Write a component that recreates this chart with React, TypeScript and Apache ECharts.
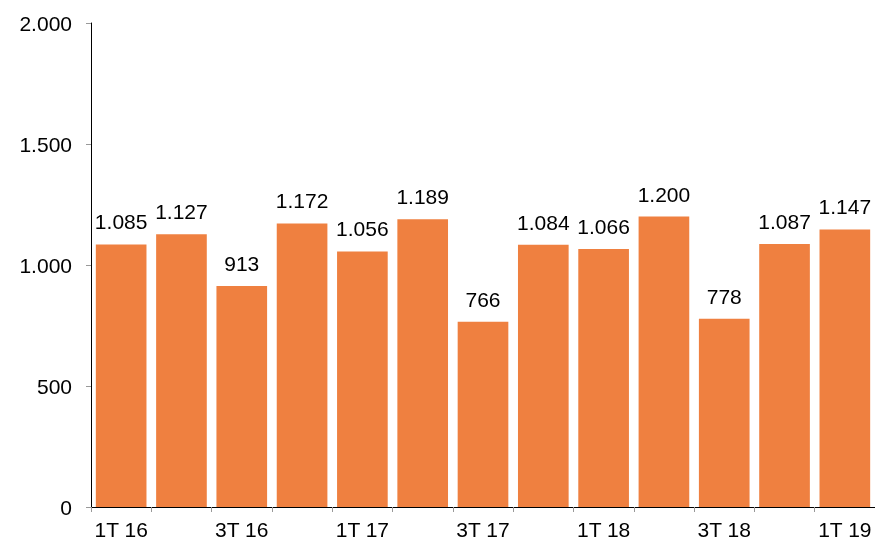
import React, { useEffect, useRef } from "react";
import * as echarts from "echarts";

const categories = ["1T 16", "2T 16", "3T 16", "4T 16", "1T 17", "2T 17", "3T 17", "4T 17", "1T 18", "2T 18", "3T 18", "4T 18", "1T 19"];
const values = [1085, 1127, 913, 1172, 1056, 1189, 766, 1084, 1066, 1200, 778, 1087, 1147];
const yTicks = { min: 0, max: 2000, interval: 500 };

const fmt = (v: number) => String(Math.round(v)).replace(/\B(?=(\d{3})+(?!\d))/g, ".");

export default function App() {
  const ref = useRef<HTMLDivElement>(null);
  useEffect(() => {
    if (!ref.current) return;
    const chart = echarts.init(ref.current, null, { renderer: "svg" });
    const font = "Liberation Sans, Arial, sans-serif";
    chart.setOption({
      animation: false,
      grid: { left: 91, right: 0, top: 23, bottom: 34, containLabel: false },
      xAxis: {
        type: "category",
        data: categories,
        axisLine: { lineStyle: { color: "#000", width: 1 } },
        axisTick: { show: true, interval: 0, length: 5, lineStyle: { color: "#999" } },
        axisLabel: { interval: 1, color: "#000", fontSize: 21, fontFamily: font, margin: 12 },
      },
      yAxis: {
        type: "value",
        min: yTicks.min,
        max: yTicks.max,
        interval: yTicks.interval,
        splitLine: { show: false },
        axisLine: { show: true, lineStyle: { color: "#000", width: 1 } },
        axisTick: { show: true, length: 5, lineStyle: { color: "#999" } },
        axisLabel: { color: "#000", fontSize: 21, fontFamily: font, margin: 19, formatter: (v: number) => fmt(v) },
      },
      series: [
        {
          type: "bar",
          data: values,
          barCategoryGap: "16%",
          itemStyle: { color: "#EF8040" },
          label: {
            show: true,
            position: "top",
            distance: 12,
            color: "#000",
            fontSize: 21,
            fontFamily: font,
            formatter: (p: any) => fmt(p.value),
          },
        },
      ],
    });
    return () => chart.dispose();
  }, []);
  return <div ref={ref} style={{ position: "fixed", left: 0, top: 0, width: 875, height: 541 }} />;
}
